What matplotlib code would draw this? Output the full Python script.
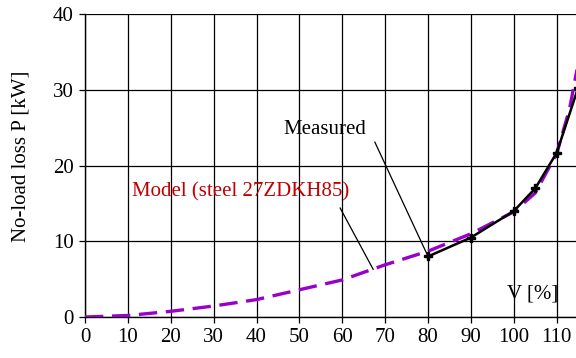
import matplotlib
matplotlib.use("Agg")
import matplotlib.pyplot as plt

plt.rcParams['font.family'] = ['Liberation Serif', 'DejaVu Serif']

# Data
model_v = [0, 10, 20, 30, 40, 50, 60, 67, 70, 80, 90, 100, 105, 110, 113, 115, 117]
model_p = [0, 0.2, 0.75, 1.45, 2.3, 3.6, 4.9, 6.3, 6.9, 8.7, 11.0, 13.9, 16.4, 21.6, 27.5, 33.5, 40]
meas_v = [80, 90, 100, 105, 110, 115]
meas_p = [8.0, 10.5, 14.0, 17.0, 21.7, 30.3]
x_ticks = [0, 10, 20, 30, 40, 50, 60, 70, 80, 90, 100, 110]
y_ticks = [0, 10, 20, 30, 40]

fig = plt.figure(figsize=(5.76, 3.58), dpi=100)
ax = fig.add_axes([85/576, 1 - 317/358, 1 - 85/576, (317 - 14.3)/358])

ax.plot(model_v, model_p, color='#9900cc', lw=2.4, dashes=(5.5, 2.6), zorder=3)
ax.plot(meas_v, meas_p, color='black', lw=1.8, marker='P', ms=5.5, zorder=4, clip_on=True)

ax.set_xticks(x_ticks)
ax.set_yticks(y_ticks)
ax.set_xlim(0, 114.5)
ax.set_ylim(0, 40)
ax.grid(True, color='black', lw=0.9)
ax.set_axisbelow(True)
for s in ['top', 'right']:
    ax.spines[s].set_visible(False)
for s in ['left', 'bottom']:
    ax.spines[s].set_linewidth(1.0)
ax.tick_params(axis='both', labelsize=15, length=4, width=0.9, direction='out', pad=4)
ax.set_ylabel('No-load loss P [kW]', fontsize=15)
ax.yaxis.set_label_coords(-0.112, 0.532)

ax.text(56.0, 24.8, 'Measured', fontsize=15, ha='center', va='center')
ax.plot([67.6, 80], [23.1, 8.0], color='black', lw=0.9, zorder=5)
ax.text(36.4, 16.5, 'Model (steel 27ZDKH85)', fontsize=15, ha='center', va='center', color='#c00000')
ax.plot([59.5, 67.2], [14.4, 6.3], color='black', lw=0.9, zorder=5)
ax.text(104.5, 3.0, 'V [%]', fontsize=15, ha='center', va='center')

fig.savefig('out.png', dpi=100)
